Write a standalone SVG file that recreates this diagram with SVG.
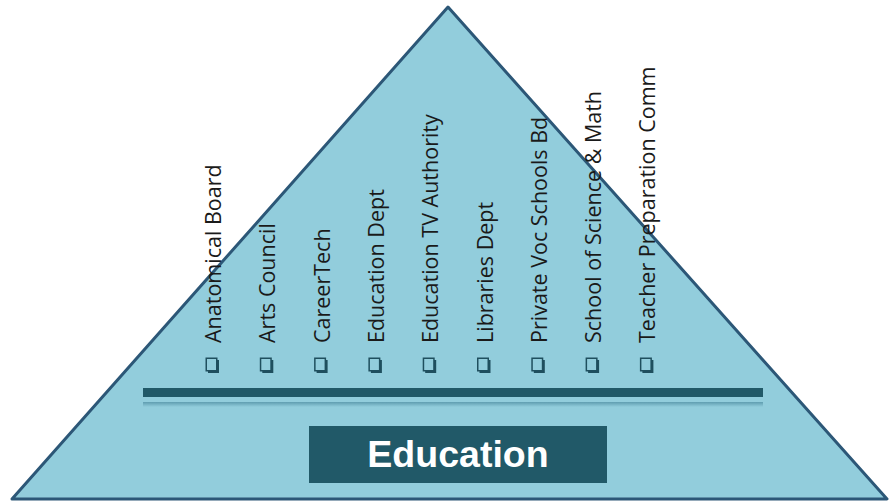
<svg xmlns="http://www.w3.org/2000/svg" width="889" height="502" viewBox="0 0 889 502">
  <defs>
    <style>
      .lbl { font-family: "Open Sans", "Liberation Sans", sans-serif; font-size: 21.5px; fill: #1a1a1a; }
      .bul-face { fill: #92cddc; stroke: #1f4f5e; stroke-width: 1.5; }
      .bul-shadow { fill: #1f4f5e; }
      .title { font-family: "Liberation Sans", Arial, sans-serif; font-weight: bold; font-size: 37.5px; fill: #ffffff; }
    </style>
    <linearGradient id="thin" x1="0" y1="0" x2="0" y2="1">
      <stop offset="0" stop-color="#5f9db0"/>
      <stop offset="1" stop-color="#92cddc"/>
    </linearGradient>
    <g id="bullet">
      <rect class="bul-shadow" x="2.5" y="2.5" width="11" height="13"/>
      <rect class="bul-face" x="0.75" y="0.75" width="10.5" height="12.5"/>
    </g>
  </defs>

  <rect width="889" height="502" fill="#ffffff"/>

  <g id="pyramid">
    <polygon points="12,499 448,7 887,499" fill="#92cddc" stroke="#2c5777" stroke-width="3" stroke-linejoin="round"/>
  </g>

  <g id="divider">
    <rect x="143" y="388" width="620" height="9" fill="#215968"/>
    <rect x="143" y="402" width="620" height="5" fill="url(#thin)"/>
  </g>

  <g id="connectors"></g>

  <g id="node-anatomical">
    <use href="#bullet" x="205.5" y="357.5"/>
    <text class="lbl" transform="translate(221,343) rotate(-90)">Anatomical Board</text>
  </g>
  <g id="node-arts">
    <use href="#bullet" x="259.8" y="357.5"/>
    <text class="lbl" transform="translate(275.3,343) rotate(-90)">Arts Council</text>
  </g>
  <g id="node-careertech">
    <use href="#bullet" x="314.1" y="357.5"/>
    <text class="lbl" transform="translate(329.6,343) rotate(-90)">CareerTech</text>
  </g>
  <g id="node-education-dept">
    <use href="#bullet" x="368.4" y="357.5"/>
    <text class="lbl" transform="translate(383.9,343) rotate(-90)">Education Dept</text>
  </g>
  <g id="node-education-tv">
    <use href="#bullet" x="422.7" y="357.5"/>
    <text class="lbl" transform="translate(438.2,343) rotate(-90)">Education TV Authority</text>
  </g>
  <g id="node-libraries">
    <use href="#bullet" x="477" y="357.5"/>
    <text class="lbl" transform="translate(492.5,343) rotate(-90)">Libraries Dept</text>
  </g>
  <g id="node-private-voc">
    <use href="#bullet" x="531.3" y="357.5"/>
    <text class="lbl" transform="translate(546.8,343) rotate(-90)">Private Voc Schools Bd</text>
  </g>
  <g id="node-school-science">
    <use href="#bullet" x="585.6" y="357.5"/>
    <text class="lbl" transform="translate(601.1,343) rotate(-90)">School of Science &amp; Math</text>
  </g>
  <g id="node-teacher-prep">
    <use href="#bullet" x="639.9" y="357.5"/>
    <text class="lbl" transform="translate(655.4,343) rotate(-90)">Teacher Preparation Comm</text>
  </g>

  <g id="node-education">
    <rect x="309" y="426" width="298" height="57" fill="#215968"/>
    <text class="title" x="458" y="467" text-anchor="middle">Education</text>
  </g>
</svg>
